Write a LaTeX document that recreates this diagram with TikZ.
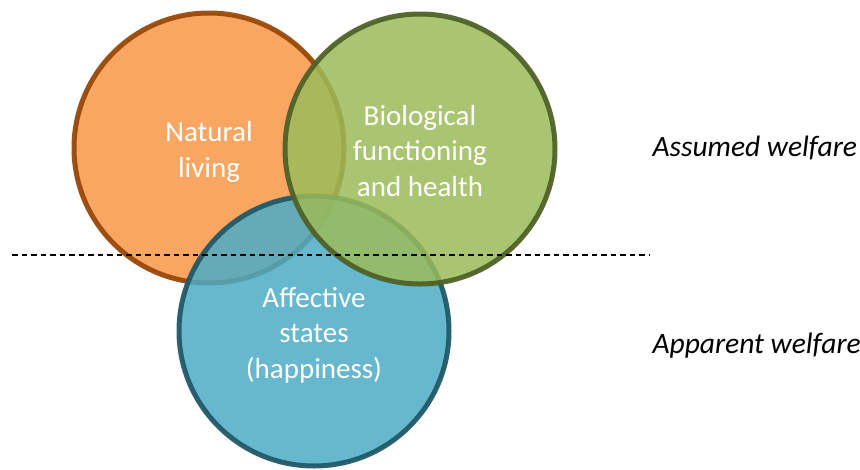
\documentclass[tikz,border=0pt]{standalone}
\usepackage{fontspec}
\setmainfont{Carlito}
\definecolor{orangefill}{HTML}{F79645}
\definecolor{orangeline}{HTML}{984807}
\definecolor{greenfill}{HTML}{9BBB59}
\definecolor{greenline}{HTML}{4F6228}
\definecolor{bluefill}{HTML}{4BACC6}
\definecolor{blueline}{HTML}{215968}
\tikzset{
  venn/.style={circle, minimum size=270pt, inner sep=0pt, line width=5pt,
    fill opacity=0.85, draw opacity=0.95},
  circlabel/.style={text=white, align=center,
    font=\fontsize{29pt}{35.5pt}\selectfont},
  sidelabel/.style={anchor=base west, font=\fontsize{29.5pt}{34pt}\selectfont\itshape},
  divider/.style={line width=2.2pt, dash pattern=on 5.5pt off 4pt}
}
\begin{document}
\begin{tikzpicture}[x=1pt, y=-1pt]
  \useasboundingbox (0,0) rectangle (860,469);
  % the three overlapping welfare circles
  \node[venn, draw=orangeline, fill=orangefill] (natural) at (209,148) {};
  \node[venn, draw=blueline, fill=bluefill] (affective) at (314,331) {};
  \node[venn, draw=greenline, fill=greenfill] (biological) at (420,149) {};
  % circle captions
  \node[circlabel] (naturaltxt) at (209,152) {Natural\\living};
  \node[circlabel] (biotxt) at (420,151) {Biological\\functioning\\and health};
  \node[circlabel] (afftxt) at (314,335) {Affective\\states\\(happiness)};
  % dividing line between the two kinds of welfare
  \coordinate (lineL) at (12,255);
  \coordinate (lineR) at (649,255);
  \draw[divider] (lineL) -- (lineR);
  % side labels
  \node[sidelabel] (assumed) at (649,156) {Assumed welfare};
  \node[sidelabel] (apparent) at (649,353) {Apparent welfare};
\end{tikzpicture}
\end{document}
